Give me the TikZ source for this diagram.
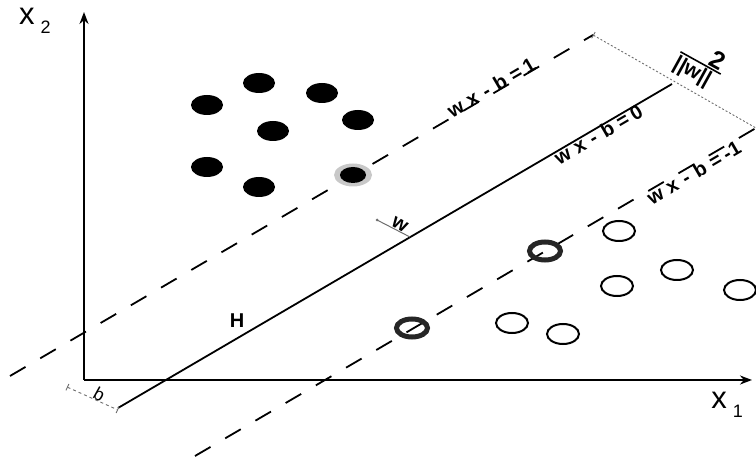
\documentclass[tikz,border=0pt]{standalone}
\usepackage{fontspec}
\setmainfont{Liberation Sans}
\usepackage{tikz}
\usetikzlibrary{arrows.meta}
\definecolor{halogray}{RGB}{200, 200, 200}
\definecolor{dotgray}{RGB}{110, 110, 110}
\newcommand{\hyperlbl}[1]{\textbf{w}\hspace{0.3em}\textbf{x}\hspace{0.35em}\textbf{-}\hspace{0.35em}\textbf{b}\hspace{0.3em}\textbf{=}\hspace{0.2em}\textbf{#1}}

\begin{document}
\begin{tikzpicture}[x=1pt, y=-1pt,
    axis/.style={line width=2.4pt, -{Stealth[length=12pt, width=9pt]}},
    margin/.style={line width=1.8pt, dash pattern=on 18pt off 17pt},
    lbl/.style={font=\fontsize{20}{22}\selectfont, inner sep=1.5pt}]
    \useasboundingbox (0,0) rectangle (756,462);

    % axes
    \coordinate (O) at (84,380);
    \coordinate (x2end) at (84,12);
    \coordinate (x1end) at (752,380);
    \draw[axis] (O) -- (x2end);
    \draw[axis] (O) -- (x1end);
    \node (x2lbl) at (35,21) {\fontsize{31}{31}\selectfont x\hspace{6pt}\raisebox{-9pt}{\fontsize{18}{18}\selectfont 2}};
    \node (x1lbl) at (727,405) {\fontsize{31}{31}\selectfont x\hspace{6pt}\raisebox{-9pt}{\fontsize{18}{18}\selectfont 1}};

    % hyperplane H and the two margins
    \coordinate (upA) at (10,376);
    \coordinate (upB) at (593,35);
    \coordinate (hA) at (118,408);
    \coordinate (hB) at (672,84);
    \coordinate (loA) at (195,456);
    \coordinate (loB) at (756,128);
    \draw[margin] (upA) -- (upB);
    \draw[line width=1.8pt] (hA) -- (hB);
    \draw[margin] (loA) -- (loB);

    \node[lbl, rotate=30.3, anchor=south, inner sep=0pt] (plusl) at (495,94) {\hyperlbl{1}};
    \node[lbl, rotate=30.3, anchor=north, inner sep=1pt] (zerol) at (594,127) {\hyperlbl{0}};
    \node[lbl, rotate=30.3, anchor=north, inner sep=0pt] (minusl) at (690,166) {\hyperlbl{-1}};
    \node[lbl] (hlbl) at (237,321) {\textbf{H}};

    % margin width 2/||w||
    \draw[dotgray, line width=0.9pt, dash pattern=on 2pt off 2pt, {Bar[width=7pt]}-] (upB) -- (loB);
    \node[rotate=-29, inner sep=0pt] (width) at (700,64)
        {${\hbox to 46pt{\hfil\fontsize{25}{25}\selectfont\bfseries 2\hspace{2pt}} \above 1.6pt \hbox to 46pt{\fontsize{21}{21}\selectfont\bfseries ||w||\hfil}}$};

    % normal vector w
    \coordinate (wtip) at (377,220);
    \coordinate (wfoot) at (410,237);
    \draw[dotgray, line width=1pt] (wfoot) -- (wtip);
    \fill[dotgray] (wtip) circle (1.5pt);
    \node[lbl, rotate=-29, anchor=south, inner sep=0pt] (wlbl) at (397,229) {\textbf{w}};

    % offset b
    \coordinate (bA) at (67,387);
    \coordinate (bB) at (118,410);
    \draw[dotgray, line width=0.9pt, dash pattern=on 3pt off 3pt, {Bar[width=7pt]}-{Bar[width=7pt]}] (bA) -- (bB);
    \node[lbl, rotate=-29, anchor=south, inner sep=0pt, font=\fontsize{18}{20}\selectfont] (blbl) at (96,400) {b};

    % class +1 (filled)
    \foreach \px/\py in {207/105, 259/83, 322/93, 273/131, 358/120, 207/167, 259/187}
        \fill (\px,\py) ellipse (16pt and 10pt);
    \fill[halogray] (353,175) ellipse (19pt and 11.5pt);
    \fill (353,175) ellipse (13pt and 8pt);

    % class -1 (open)
    \foreach \px/\py in {619/231, 677/270, 617/286, 740/290, 512/323, 563/334}
        \draw[line width=2pt] (\px,\py) ellipse (16pt and 10pt);
    \foreach \px/\py in {545/251, 412/328}
        \draw[line width=5pt, black!85] (\px,\py) ellipse (15.5pt and 9pt);
\end{tikzpicture}
\end{document}
